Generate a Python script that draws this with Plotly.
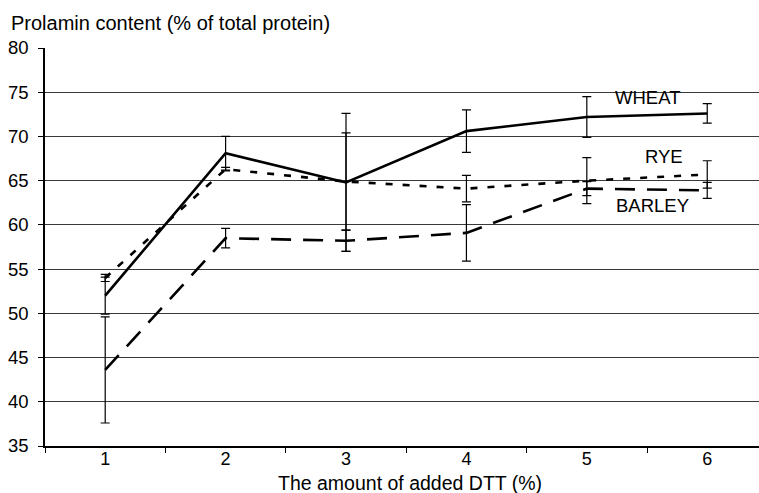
import plotly.graph_objects as go

categories = ["1", "2", "3", "4", "5", "6"]
wheat = [52.0, 68.1, 64.8, 70.6, 72.2, 72.6]
wheat_err = [2.1, 1.9, 7.8, 2.4, 2.3, 1.1]
rye = [54.0, 66.3, 64.9, 64.1, 65.0, 65.7]
rye_err = [0.4, 0.2, 5.5, 1.5, 2.6, 1.55]
barley = [43.6, 58.5, 58.2, 59.1, 64.1, 63.9]
barley_err = [6.0, 1.1, 1.2, 3.2, 0.8, 0.9]
y_ticks = [35, 40, 45, 50, 55, 60, 65, 70, 75, 80]

FONT = "Liberation Sans, Arial, sans-serif"

fig = go.Figure()

def add(name, y, err, dash):
    fig.add_trace(go.Scatter(
        x=categories, y=y, mode="lines", name=name,
        line=dict(color="black", width=2.6, dash=dash),
        error_y=dict(type="data", array=err, visible=True,
                     color="black", thickness=1.2, width=4.5),
        showlegend=False,
    ))

add("BARLEY", barley, barley_err, "20px,12px")
add("RYE", rye, rye_err, "7px,10px")
add("WHEAT", wheat, wheat_err, "solid")

fig.update_layout(
    width=759, height=493,
    margin=dict(l=45, r=0, t=48, b=47),
    paper_bgcolor="white", plot_bgcolor="white",
    font=dict(family=FONT, size=18.5, color="black"),
    xaxis=dict(
        type="category", range=[-0.5, 5.43],
        tickson="boundaries", ticks="outside", ticklen=5, tickcolor="black",
        showline=True, linecolor="black", linewidth=1.5,
        showgrid=False, zeroline=False,
        tickfont=dict(size=18), ticklabelstandoff=-4,
    ),
    yaxis=dict(
        range=[35, 80], tickvals=y_ticks,
        ticks="outside", ticklen=5, tickcolor="black",
        showline=True, linecolor="black", linewidth=1.5,
        showgrid=True, gridcolor="#3a3a3a", gridwidth=1,
        zeroline=False, tickfont=dict(size=18.5),
        ticklabelstandoff=6,
    ),
    annotations=[
        dict(text="Prolamin content (% of total protein)", xref="paper", yref="paper",
             x=-0.05, y=1.062, xanchor="left", yanchor="middle", showarrow=False,
             font=dict(size=20)),
        dict(text="The amount of added DTT (%)", xref="paper", yref="paper",
             x=0.511, y=-0.093, xanchor="center", yanchor="middle", showarrow=False,
             font=dict(size=19.5)),
        dict(text="WHEAT", x=4.507, y=74.4, xref="x", yref="y", showarrow=False,
             xanchor="center", yanchor="middle", font=dict(size=18.5)),
        dict(text="RYE", x=4.644, y=67.75, xref="x", yref="y", showarrow=False,
             xanchor="center", yanchor="middle", font=dict(size=18.5)),
        dict(text="BARLEY", x=4.549, y=62.2, xref="x", yref="y", showarrow=False,
             xanchor="center", yanchor="middle", font=dict(size=18.5)),
    ],
)

fig.write_html("out.html", config={"displayModeBar": False},
               post_script="document.body.style.margin='0';document.body.style.overflow='hidden';")
